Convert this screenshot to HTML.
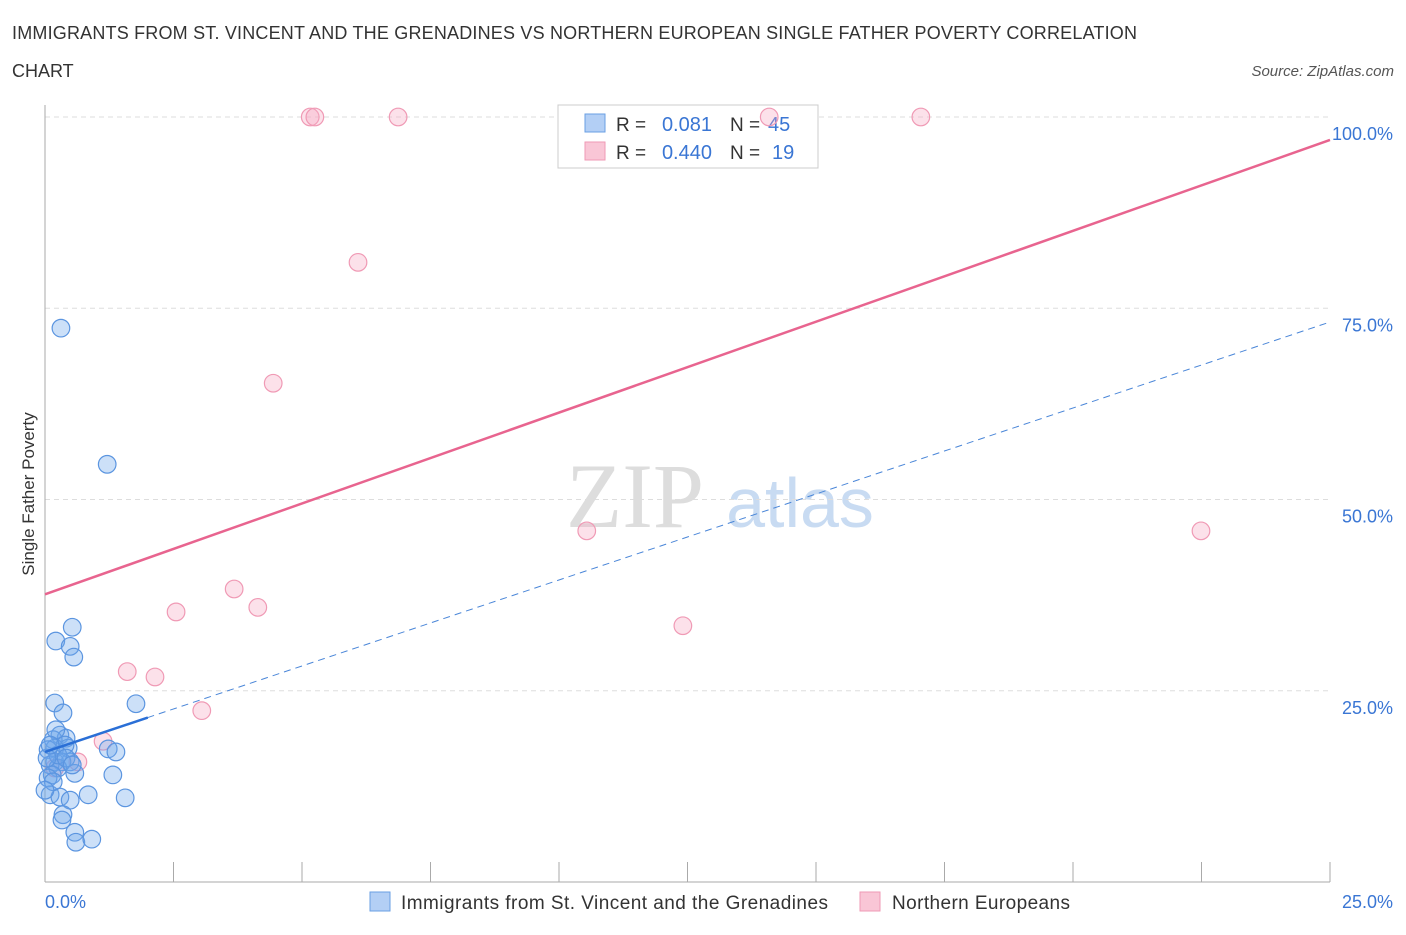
<!DOCTYPE html>
<html><head><meta charset="utf-8"><style>
body{margin:0;background:#fff;font-family:"Liberation Sans",sans-serif;}
</style></head><body>
<svg id="c" width="1406" height="930" xmlns="http://www.w3.org/2000/svg">
<text x="12" y="39" font-size="18" fill="#333" textLength="1125">IMMIGRANTS FROM ST. VINCENT AND THE GRENADINES VS NORTHERN EUROPEAN SINGLE FATHER POVERTY CORRELATION</text>
<text x="12" y="77" font-size="18" fill="#333">CHART</text>
<text x="1394" y="76" font-size="15" fill="#555" font-style="italic" text-anchor="end">Source: ZipAtlas.com</text>
<text x="635" y="527" font-size="92" fill="#ddd" font-family="Liberation Serif" text-anchor="middle">ZIP</text>
<text x="800" y="527" font-size="70" fill="#c8dbf2" text-anchor="middle">atlas</text>
<text transform="translate(34,494) rotate(-90)" font-size="17" fill="#333" text-anchor="middle">Single Father Poverty</text>
<g id="grid"></g>
<g>
<rect x="558" y="105" width="260" height="63" fill="#fff" stroke="#ccc"/>
<rect x="585" y="114" width="20" height="18" fill="#b3cff5" stroke="#6a9fe3"/>
<rect x="585" y="142" width="20" height="18" fill="#f9c6d6" stroke="#ef9ab5"/>
<text x="616" y="131" font-size="19" fill="#333">R =</text>
<text x="712" y="131" font-size="20" fill="#3a76d4" text-anchor="end">0.081</text>
<text x="730" y="131" font-size="19" fill="#333">N =</text>
<text x="768" y="131" font-size="20" fill="#3a76d4">45</text>
<text x="616" y="159" font-size="19" fill="#333">R =</text>
<text x="712" y="159" font-size="20" fill="#3a76d4" text-anchor="end">0.440</text>
<text x="730" y="159" font-size="19" fill="#333">N =</text>
<text x="772" y="159" font-size="20" fill="#3a76d4">19</text>
</g>
<g id="pts"></g><g id="lines"></g>
<g>
<rect x="370" y="892" width="20" height="19" fill="#b3cff5" stroke="#6a9fe3"/>
<text x="401" y="909" font-size="19" fill="#333" textLength="427">Immigrants from St. Vincent and the Grenadines</text>
<rect x="860" y="892" width="20" height="19" fill="#f9c6d6" stroke="#ef9ab5"/>
<text x="892" y="909" font-size="19" fill="#333" textLength="178">Northern Europeans</text>
</g>
</svg>
<script>
const blueX=[0.31,1.21,0.53,0.21,0.49,0.56,0.19,1.77,0.35,0.29,0.41,0.16,0.45,0.19,1.23,1.38,0.06,0.19,0.49,0.33,0.10,0.25,0.58,1.32,0.14,0.06,0.84,0.10,0.29,1.56,0.49,0.35,0.33,0.58,0.60,0.91,0.39,0.25,0.41,0.04,0.16,0.53,0.21,0.0,0.10];
const blueY=[72.4,54.6,33.3,31.5,30.8,29.4,23.4,23.3,22.1,19.2,18.8,18.6,17.5,17.5,17.4,17.0,17.3,15.7,15.7,15.7,15.3,14.9,14.2,14.0,14.0,13.6,11.4,11.4,11.1,11.0,10.7,8.8,8.1,6.5,5.2,5.6,17.9,16.6,16.2,16.2,13.1,15.3,19.9,12.0,17.9];
const pinkX=[5.16,5.25,6.87,14.09,17.04,6.09,4.44,10.54,22.49,3.68,4.14,2.55,12.41,1.60,2.14,3.05,1.13,0.64,0.19];
const pinkY=[100,100,100,100,100,81.0,65.2,45.9,45.9,38.3,35.9,35.3,33.5,27.5,26.8,22.4,18.4,15.7,14.9];
const yTicks=[25,50,75,100];
const yTickLabels=["25.0%","50.0%","75.0%","100.0%"];
const pinkLine=[37.6,97.0];
const blueLine=[17.0,73.2];
const NS="http://www.w3.org/2000/svg";
const sx=v=>45+v/25*1285, sy=v=>882-v/100*765;
function mk(t,a,p){const e=document.createElementNS(NS,t);for(const k in a)e.setAttribute(k,a[k]);p.appendChild(e);return e;}
const grid=document.getElementById('grid');
yTicks.forEach((t,i)=>{
 const l=mk('line',{x1:45,x2:1330,y1:sy(t),y2:sy(t),stroke:'#ddd','stroke-dasharray':'5,4'},grid);
 
 
 const tx=mk('text',{x:1393,y:sy(t)+23,'font-size':18,fill:'#3a76d4','text-anchor':'end'},grid);
 tx.textContent=yTickLabels[i];
 
 
});
mk('line',{x1:45,x2:45,y1:105,y2:882,stroke:'#aaa'},grid);
mk('line',{x1:45,x2:1330,y1:882,y2:882,stroke:'#aaa'},grid);
for(let i=0;i<=10;i++){const x=sx(i*2.5);const t=mk('line',{x1:x,x2:x,y1:862,y2:882,stroke:'#aaa'},grid);}
const x0=mk('text',{x:45,y:908,'font-size':18,fill:'#3a76d4'},grid);x0.textContent='0.0%';


const x1=mk('text',{x:1393,y:908,'font-size':18,fill:'#3a76d4','text-anchor':'end'},grid);x1.textContent='25.0%';


const pts=document.getElementById('pts');
pinkX.forEach((v,i)=>{const c=mk('circle',{cx:sx(v),cy:sy(pinkY[i]),r:8.8,fill:'rgba(246,170,195,0.35)',stroke:'#f09ab5','stroke-width':1.2},pts);

});
blueX.forEach((v,i)=>{const c=mk('circle',{cx:sx(v),cy:sy(blueY[i]),r:8.8,fill:'rgba(110,165,235,0.35)',stroke:'#5b95e0','stroke-width':1.2},pts);

});
const lines=document.getElementById('lines');
const pl=mk('line',{x1:sx(0),y1:sy(pinkLine[0]),x2:sx(25),y2:sy(pinkLine[1]),stroke:'#e8648f','stroke-width':2.5},lines);


const bd=mk('line',{x1:sx(0),y1:sy(blueLine[0]),x2:sx(25),y2:sy(blueLine[1]),stroke:'#4a86d8','stroke-width':1,'stroke-dasharray':'7,5'},lines);


const bx=2.0, byv=blueLine[0]+(blueLine[1]-blueLine[0])*bx/25;
const bs=mk('line',{x1:sx(0),y1:sy(blueLine[0]),x2:sx(bx),y2:sy(byv),stroke:'#2a6fd6','stroke-width':2.5},lines);


</script>
</body></html>
